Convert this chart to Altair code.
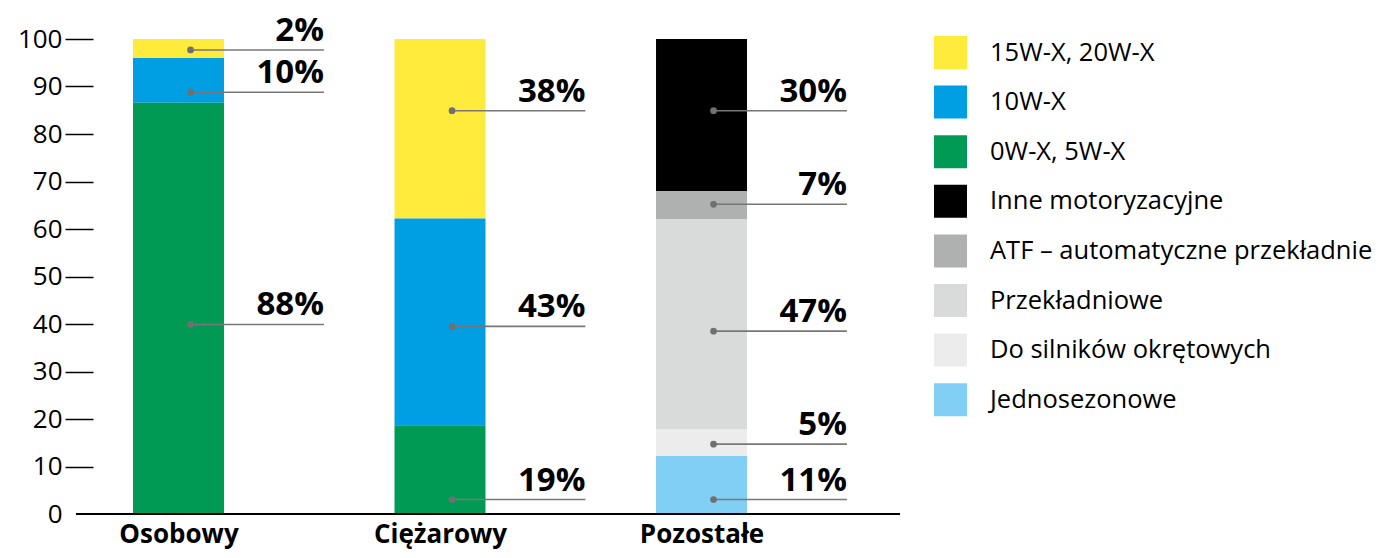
import altair as alt
import pandas as pd

categories = ["Osobowy", "Ciężarowy", "Pozostałe"]
series = ["15W-X, 20W-X", "10W-X", "0W-X, 5W-X", "Inne motoryzacyjne",
          "ATF – automatyczne przekładnie", "Przekładniowe",
          "Do silników okrętowych", "Jednosezonowe"]
colors = ["#FFEB3B", "#009FE3", "#009A55", "#000000",
          "#AFB0B0", "#D9DADA", "#ECECEC", "#82CFF5"]

# segment heights, in series order
osobowy = [4.0, 9.4, 86.6, 0, 0, 0, 0, 0]
ciezarowy = [37.8, 43.5, 18.7, 0, 0, 0, 0, 0]
pozostale = [0, 0, 0, 32.0, 5.9, 44.3, 5.6, 12.2]

# annotation labels and the height of their leader lines
ann_cat = ["Osobowy"] * 3 + ["Ciężarowy"] * 3 + ["Pozostałe"] * 5
ann_text = ["2%", "10%", "88%", "38%", "43%", "19%", "30%", "7%", "47%", "5%", "11%"]
ann_pos = [97.7, 88.8, 39.9, 84.9, 39.5, 3.05, 84.9, 65.2, 38.5, 14.7, 3.05]

y_ticks = list(range(0, 101, 10))

rows = []
for cat, vals in zip(categories, [osobowy, ciezarowy, pozostale]):
    for i, (s, v) in enumerate(zip(series, vals)):
        if v > 0:
            rows.append({"idx": categories.index(cat), "series": s, "value": v,
                         "ord": len(series) - i})
bars_df = pd.DataFrame(rows)
ann_df = pd.DataFrame({"idx": [categories.index(c) for c in ann_cat],
                       "text": ann_text, "pos": ann_pos})
base_df = pd.DataFrame({"v": [0]})

W, H = 807, 475
FONT = "Open Sans"
DOT_OFF = 0.046    # leader dot, right of bar centre (category units)
END_OFF = 0.556    # leader end / label right edge (category units)

label_expr = "[" + ",".join("'" + c + "'" for c in categories) + "][datum.value]"

xscale = alt.Scale(domain=[-0.327, 2.759], nice=False, zero=False, padding=0)
yscale = alt.Scale(domain=[0, 100], nice=False, zero=True)

xaxis = alt.Axis(title=None, values=[0, 1, 2], labelExpr=label_expr, labelAngle=0,
                 domain=False, ticks=False, tickSize=0, grid=False,
                 labelFont=FONT, labelFontWeight="bold", labelFontSize=26,
                 labelColor="black", labelPadding=7, labelBaseline="top")
yaxis = alt.Axis(title=None, values=y_ticks, domain=False, grid=False, tickSize=28,
                 tickWidth=1.5,
                 tickColor={"condition": {"test": "datum.value === 0", "value": "transparent"},
                            "value": "black"},
                 labelFont=FONT, labelFontSize=26, labelColor="black", labelPadding=3)

bars = alt.Chart(bars_df).mark_bar(size=91).encode(
    x=alt.X("idx:Q", scale=xscale, axis=xaxis),
    y=alt.Y("value:Q", stack="zero", scale=yscale, axis=yaxis),
    color=alt.Color("series:N", scale=alt.Scale(domain=series, range=colors),
                    legend=alt.Legend(title=None, orient="none", legendX=841, legendY=-3,
                                      symbolType="square", symbolSize=1089,
                                      symbolStrokeWidth=0, symbolOpacity=1,
                                      labelFont=FONT, labelFontSize=25.5, labelColor="black",
                                      labelOffset=23, rowPadding=16.6, labelLimit=600)),
    order=alt.Order("ord:Q", sort="ascending"),
)

baseline = alt.Chart(base_df).mark_rule(color="black", strokeWidth=2).encode(
    y=alt.Y("v:Q", scale=yscale), x=alt.value(-17), x2=alt.value(W)
)

ann = alt.Chart(ann_df).transform_calculate(
    xd=f"datum.idx + {DOT_OFF}", xe=f"datum.idx + {END_OFF}"
)

leaders = ann.mark_rule(color="#777777", strokeWidth=1.6).encode(
    x=alt.X("xd:Q", scale=xscale), x2="xe:Q", y=alt.Y("pos:Q", scale=yscale),
)

dots = ann.mark_circle(size=45, color="#707070", opacity=1).encode(
    x=alt.X("xd:Q", scale=xscale), y=alt.Y("pos:Q", scale=yscale),
)

labels = ann.mark_text(align="right", baseline="alphabetic", dy=-9,
                       font=FONT, fontSize=33, fontWeight="bold", color="black").encode(
    x=alt.X("xe:Q", scale=xscale), y=alt.Y("pos:Q", scale=yscale), text="text:N",
)

chart = alt.layer(bars, baseline, leaders, dots, labels).properties(
    width=W, height=H,
    autosize=alt.AutoSizeParams(type="none"),
    padding={"left": 85, "top": 31, "right": 474, "bottom": 36},
).configure_view(stroke=None)

chart.save("out.html", embed_options={"renderer": "svg", "actions": False})
